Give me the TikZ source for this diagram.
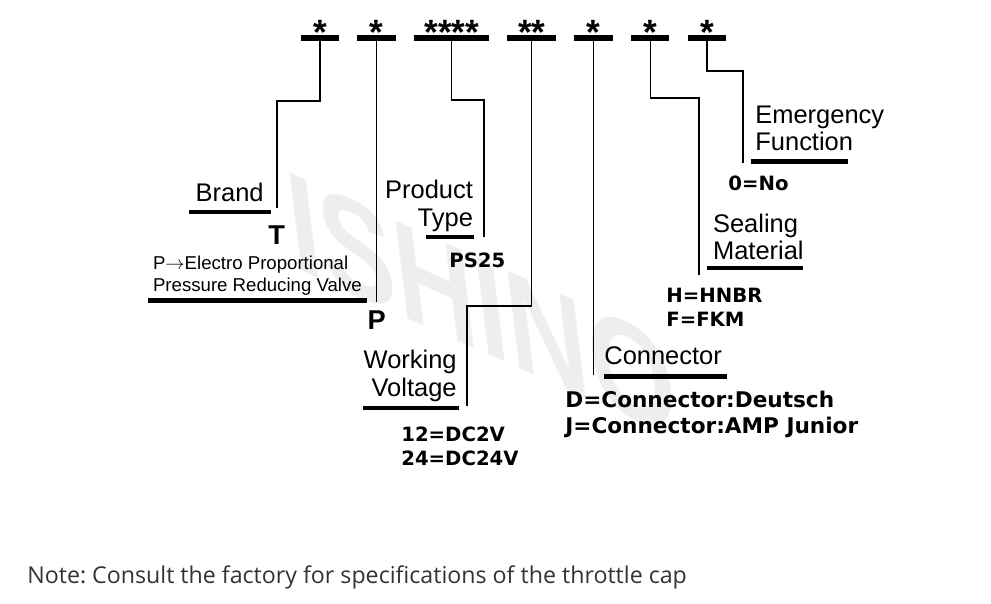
\documentclass[tikz,border=0pt]{standalone}
\usepackage{fontspec}
\setmainfont{Liberation Sans}
\newfontfamily\codefont{DejaVu Sans}
\newfontfamily\notefont{Open Sans}
\usetikzlibrary{calc,positioning}
\definecolor{NoteGray}{HTML}{333333}
\definecolor{MarkGray}{HTML}{EEEEEE}
\frenchspacing

\begin{document}
\begin{tikzpicture}[x=0.02cm,y=-0.02cm,
    slot/.style={fill=black,inner sep=0pt,minimum height=0.112cm},
    rule/.style={fill=black,inner sep=0pt,minimum height=0.09cm},
    wire/.style={line width=0.7pt},
    starry/.style={font=\bfseries\fontsize{20}{20}\selectfont,inner sep=0pt},
    lbl/.style={font=\fontsize{14.5}{15.8}\selectfont,inner sep=0pt},
    desc/.style={font=\fontsize{10.6}{12.35}\selectfont,inner sep=0pt,align=left},
    letter/.style={font=\bfseries\fontsize{15.5}{15.5}\selectfont,inner sep=0pt},
    code/.style={font=\codefont\bfseries\fontsize{11.2}{13.9}\selectfont,inner sep=0pt,align=left}
  ]
    \useasboundingbox (0,0) rectangle (991,604);
    % watermark
    \node[font=\bfseries\fontsize{70}{70}\selectfont,text=MarkGray,rotate=-24,xslant=-0.6] (wm) at (482,305) {ISHINO};

    % code slots on top
    \foreach \x/\w/\s [count=\i] in {320/0.77/*,376.7/0.77/*,451.7/1.5/****,531.7/0.97/**,593.5/0.77/*,650.2/0.77/*,706.9/0.77/*}{
      \node[slot,minimum width=\w cm] (b\i) at (\x,38) {};
      \node[starry,anchor=base] (s\i) at (\x,45) {\s};
    }

    % underlines of the captions
    \node[rule,minimum width=1.64cm] (u1) at (230,212) {};
    \node[rule,minimum width=4.38cm] (u2) at (257.5,300.7) {};
    \node[rule,minimum width=0.96cm] (u3) at (450,237) {};
    \node[rule,minimum width=1.92cm] (u4) at (411,408) {};
    \node[rule,minimum width=2.46cm] (u5) at (665.5,376.7) {};
    \node[rule,minimum width=1.92cm] (u6) at (755,268) {};
    \node[rule,minimum width=1.94cm] (u7) at (799.5,161.7) {};

    % bends and ends of the leaders
    \coordinate (k1) at (277,101);  \coordinate (e1) at (277,208);
    \coordinate (e2) at (376.7,302);
    \coordinate (k3) at (484,100);  \coordinate (e3) at (484,237);
    \coordinate (k4) at (467,306);  \coordinate (e4) at (467,406);
    \coordinate (e5) at (593.5,375);
    \coordinate (k6) at (699,98);   \coordinate (e6) at (699,275);
    \coordinate (k7) at (743,71);   \coordinate (e7) at (743,163);

    \draw[wire] (b1.south) |- (k1) -- (e1);
    \draw[wire] (b2.south) -- (e2);
    \draw[wire] (b3.south) |- (k3) -- (e3);
    \draw[wire] (b4.south) |- (k4) -- (e4);
    \draw[wire] (b5.south) -- (e5);
    \draw[wire] (b6.south) |- (k6) -- (e6);
    \draw[wire] (b7.south) |- (k7) -- (e7);

    % brand
    \node[lbl,anchor=base east] (brand) at (264,202) {Brand};
    \node[letter,anchor=base] (t) at (276.7,244.3) {T};
    \node[desc,anchor=base west] (valve) at (152.7,291.7) {P$\rightarrow$Electro Proportional\\Pressure Reducing Valve};
    \node[letter,anchor=base] (p) at (376.7,330) {P};

    % product type
    \node[lbl,align=right,anchor=base east] (ptype) at (473.3,226.7) {Product\\Type};
    \node[code,anchor=base west] (ps) at (449,267.3) {PS25};

    % working voltage
    \node[lbl,align=right,anchor=base east] (volt) at (457,396.7) {Working\\Voltage};
    \node[code,anchor=base west] (dc) at (401,466) {12=DC2V\\24=DC24V};

    % connector
    \node[lbl,anchor=base west] (conn) at (604,365) {Connector};
    \node[code,font=\codefont\bfseries\fontsize{12.3}{14.4}\selectfont,anchor=base west] (plug) at (565,433.3) {D=Connector:Deutsch\\J=Connector:AMP Junior};

    % sealing material
    \node[lbl,align=left,anchor=base west] (seal) at (712.7,260) {Sealing\\Material};
    \node[code,anchor=base west] (rub) at (666,326.7) {H=HNBR\\F=FKM};

    % emergency function
    \node[lbl,align=left,anchor=base west] (emf) at (755,151) {Emergency\\Function};
    \node[code,anchor=base west] (no) at (728,190.7) {0=No};

    % note
    \node[font=\notefont\fontsize{13.2}{13.2}\selectfont,text=NoteGray,inner sep=0pt,anchor=base west] (note) at (27,583) {Note: Consult the factory for specifications of the throttle cap};
  \end{tikzpicture}
\end{document}
